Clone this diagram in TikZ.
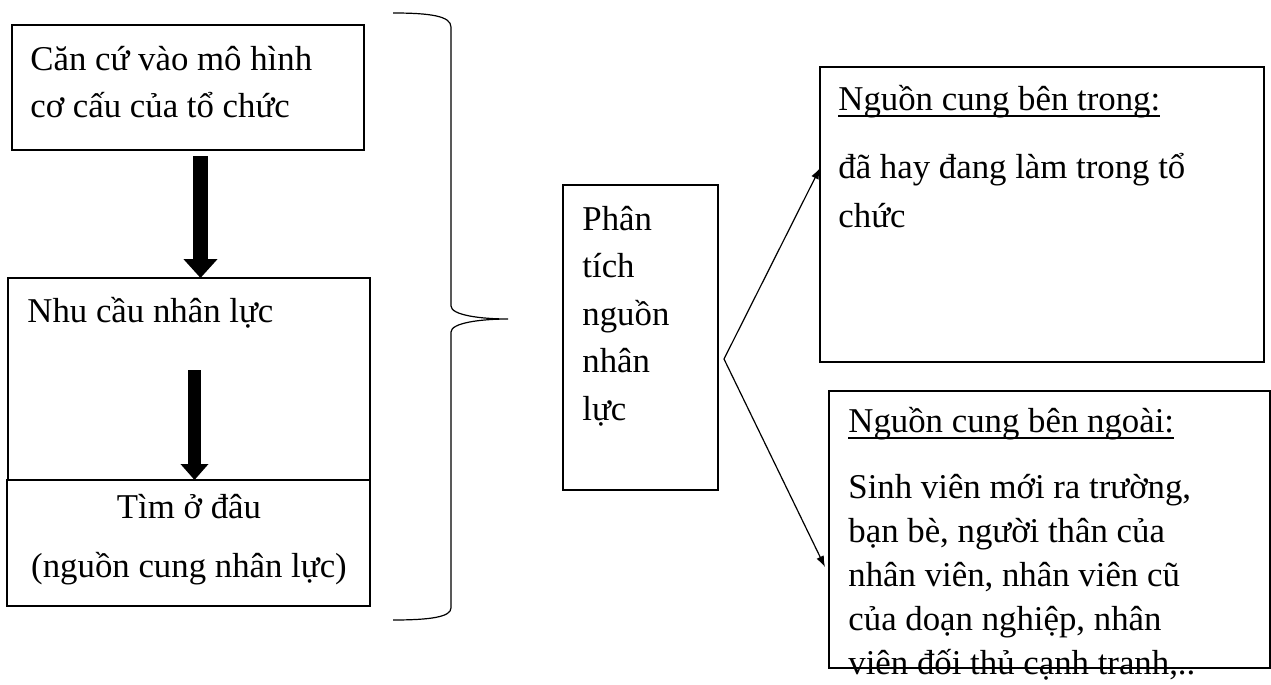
\documentclass[tikz,border=0pt]{standalone}
\usepackage{fontspec}
\setmainfont{Liberation Serif}
\usepackage{tikz}
\usetikzlibrary{arrows.meta,positioning,calc}

\newcommand{\undl}[1]{\setbox0=\hbox{#1}\rlap{\rule[-3.5pt]{\wd0}{0.8pt}}\box0}

\tikzset{
	box/.style={draw, line width=0.8pt, inner sep=0pt, outer sep=0pt, anchor=north west},
	txt/.style={inner sep=0pt, anchor=base west, align=flush left, text width=215pt},
	fatarrow/.style={line width=7.5pt, -{Triangle[width=16.5pt,length=9.5pt]}},
	midarrow/.style={line width=6.5pt, -{Triangle[width=13.5pt,length=8pt]}},
	thinarrow/.style={line width=0.6pt, -{Latex[length=5.5pt,width=4pt]}}
}

\begin{document}
\begin{tikzpicture}[x=0.5pt, y=-0.5pt]
	\useasboundingbox (0,0) rectangle (1271,685);
	
	% khung ben trai
	\node[box, minimum width=176pt, minimum height=62.5pt] (basis) at (12,25) {};
	\node[box, minimum width=181pt, minimum height=101pt] (need) at (8,278) {};
	\node[box, minimum width=181.5pt, minimum height=63pt] (where) at (7,480) {};
	
	\node[txt, font=\fontsize{17.4pt}{23.5pt}\selectfont] (basis text) at (30,70)
		{Căn cứ vào mô hình\\cơ cấu của tổ chức};
	\node[txt, font=\fontsize{17.4pt}{23.5pt}\selectfont] (need text) at (27,322)
		{Nhu cầu nhân lực};
	\node[txt, anchor=base, align=flush center, text width=180pt, font=\fontsize{17.4pt}{29.5pt}\selectfont] (where text) at (189,518)
		{Tìm ở đâu\\(nguồn cung nhân lực)};
	
	\draw[fatarrow] (200.5,156) -- ([xshift=5.75pt]need.north);
	\draw[midarrow] (194.5,370) -- ([xshift=3pt]where.north);
	
	% ngoac nhon
	\coordinate (brace tip) at (508,319);
	\draw[line width=0.6pt] (393,13) .. controls (430,13) and (451,16) .. (451,27)
		-- (451,306) .. controls (451,315) and (480,319) .. (brace tip)
		.. controls (480,319) and (451,323) .. (451,332)
		-- (451,608) .. controls (451,617) and (430,620) .. (393,620);
	
	% phan tich
	\node[box, line width=0.7pt, minimum width=77.5pt, minimum height=152.5pt] (analysis) at (563,185) {};
	\node[txt, font=\fontsize{17.4pt}{23.75pt}\selectfont] (analysis text) at (582,230)
		{Phân\\tích\\nguồn\\nhân\\lực};
	
	% nguon cung
	\node[box, line width=0.7pt, minimum width=222pt, minimum height=147.5pt] (inner) at (820,67) {};
	\node[txt, font=\fontsize{17.4pt}{23.5pt}\selectfont] (inner title) at (838,110)
		{\undl{Nguồn cung bên trong:}};
	\node[txt, font=\fontsize{17.4pt}{24.5pt}\selectfont] (inner text) at (838,178)
		{đã hay đang làm trong tổ\\chức};
	
	\node[box, line width=0.7pt, minimum width=220.5pt, minimum height=138.5pt] (outer) at (829,391) {};
	\node[txt, font=\fontsize{17.4pt}{23.5pt}\selectfont] (outer title) at (848,432)
		{\undl{Nguồn cung bên ngoài:}};
	\node[txt, font=\fontsize{17.4pt}{22pt}\selectfont] (outer text) at (848,498)
		{Sinh viên mới ra trường,\\bạn bè, người thân của\\nhân viên, nhân viên cũ\\của doạn nghiệp, nhân\\viên đối thủ cạnh tranh,..};
	
	\coordinate (fork) at (724,359);
	\draw[thinarrow] (fork) -- ([yshift=-50.5pt]inner.north west);
	\draw[thinarrow] (fork) -- ([xshift=-2pt,yshift=-88pt]outer.north west);
\end{tikzpicture}
\end{document}
